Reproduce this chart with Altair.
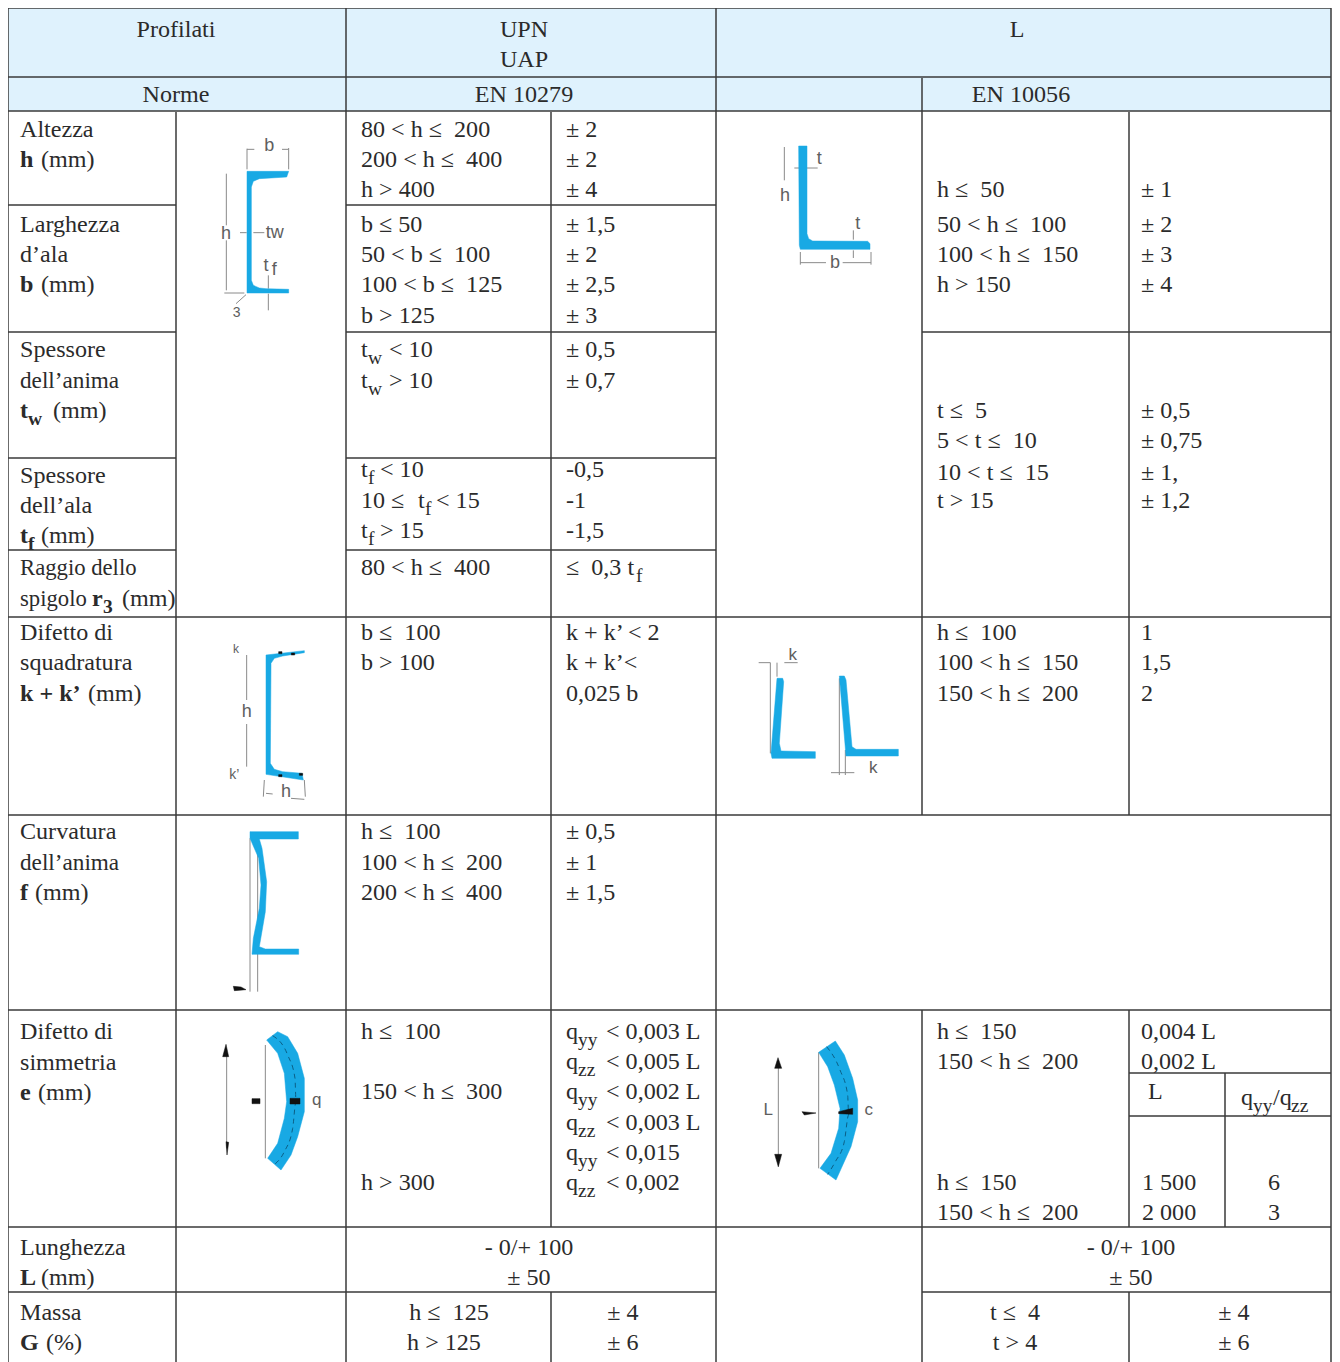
import altair as alt
import pandas as pd

NB = "\u00a0"
FONT = "Liberation Serif"
SANS = "Liberation Sans"
INK = "#2b2b2b"
RULE = "#3a3a3a"
CYAN = "#18a9e4"
HEAD = "#dff2fd"
GREY = "#5e5e5e"
S = 24.1
SUB = 19.5

def le(a):
    return a.replace("<=", "≤" + NB).replace(" ", NB)

RIGHT = 1331
vertical = [
    (8, 8, 1362), (176, 112, 1362), (346, 8, 1362), (551, 112, 1227), (551, 1292, 1362),
    (716, 8, 1362), (922, 78, 815), (922, 1010, 1362), (1129, 112, 815), (1129, 1010, 1227),
    (1129, 1292, 1362), (1225, 1073, 1227), (RIGHT, 8, 1362),
]
horizontal = [
    (8, RIGHT, 8), (8, RIGHT, 77), (8, RIGHT, 111), (8, 176, 205), (346, 716, 205),
    (8, 176, 332), (346, 716, 332), (922, RIGHT, 332), (8, 176, 458), (346, 716, 458),
    (8, 176, 550), (346, 716, 550), (8, RIGHT, 617), (8, RIGHT, 815), (8, RIGHT, 1010),
    (1129, RIGHT, 1073), (1129, RIGHT, 1116), (8, RIGHT, 1227), (8, 716, 1292), (922, RIGHT, 1292),
]

left = [
    (20, 137, "Altezza"), (41, 167, "(mm)"),
    (361, 137, le("80 < h <= 200")), (361, 167, le("200 < h <= 400")), (361, 197, "h > 400"),
    (566, 137, "± 2"), (566, 167, "± 2"), (566, 197, "± 4"),
    (20, 232, "Larghezza"), (20, 262, "d’ala"), (41, 292, "(mm)"),
    (361, 232, "b ≤ 50"), (361, 262, le("50 < b <= 100")), (361, 292, le("100 < b <= 125")), (361, 323, "b > 125"),
    (566, 232, "± 1,5"), (566, 262, "± 2"), (566, 292, "± 2,5"), (566, 323, "± 3"),
    (20, 357, "Spessore"), (20, 388, "dell’anima", 23.2), (53, 418, "(mm)"),
    (361, 357, "t"), (368, 364, "w", SUB), (389, 357, "< 10"),
    (361, 388, "t"), (368, 395, "w", SUB), (389, 388, "> 10"),
    (566, 357, "± 0,5"), (566, 388, "± 0,7"),
    (20, 483, "Spessore"), (20, 513, "dell’ala"), (41, 543, "(mm)"),
    (361, 477, "t"), (368, 484, "f", SUB), (380, 477, "< 10"),
    (361, 508, le("10 <= ")), (418, 508, "t"), (425, 515, "f", SUB), (436, 508, "< 15"),
    (361, 538, "t"), (368, 545, "f", SUB), (380, 538, "> 15"),
    (566, 477, "-0,5"), (566, 508, "-1"), (566, 538, "-1,5"),
    (20, 575, "Raggio dello", 22.7), (20, 606, "spigolo", 22.7), (122, 606, "(mm)"),
    (361, 575, le("80 < h <= 400")), (566, 575, le("<= 0,3 t")), (636, 582, "f", SUB),
    (937, 197, le("h <= 50")), (937, 232, le("50 < h <= 100")), (937, 262, le("100 < h <= 150")), (937, 292, "h > 150"),
    (1141, 197, "± 1"), (1141, 232, "± 2"), (1141, 262, "± 3"), (1141, 292, "± 4"),
    (937, 418, le("t <= 5")), (937, 448, le("5 < t <= 10")), (937, 480, le("10 < t <= 15")), (937, 508, "t > 15"),
    (1141, 418, "± 0,5"), (1141, 448, "± 0,75"), (1141, 480, "± 1,"), (1141, 508, "± 1,2"),
    (20, 640, "Difetto di"), (20, 670, "squadratura"), (88, 701, "(mm)"),
    (361, 640, le("b <= 100")), (361, 670, "b > 100"),
    (566, 640, "k + k’ < 2"), (566, 670, "k + k’<"), (566, 701, "0,025 b"),
    (937, 640, le("h <= 100")), (937, 670, le("100 < h <= 150")), (937, 701, le("150 < h <= 200")),
    (1141, 640, "1"), (1141, 670, "1,5"), (1141, 701, "2"),
    (20, 839, "Curvatura"), (20, 870, "dell’anima", 23.2), (35, 900, "(mm)"),
    (361, 839, le("h <= 100")), (361, 870, le("100 < h <= 200")), (361, 900, le("200 < h <= 400")),
    (566, 839, "± 0,5"), (566, 870, "± 1"), (566, 900, "± 1,5"),
    (20, 1039, "Difetto di"), (20, 1070, "simmetria"), (38, 1100, "(mm)"),
    (361, 1039, le("h <= 100")), (361, 1099, le("150 < h <= 300")), (361, 1190, "h > 300"),
    (566, 1039, "q"), (578, 1046, "yy", SUB), (606, 1039, "< 0,003 L"),
    (566, 1069, "q"), (578, 1076, "zz", SUB), (606, 1069, "< 0,005 L"),
    (566, 1099, "q"), (578, 1106, "yy", SUB), (606, 1099, "< 0,002 L"),
    (566, 1130, "q"), (578, 1137, "zz", SUB), (606, 1130, "< 0,003 L"),
    (566, 1160, "q"), (578, 1167, "yy", SUB), (606, 1160, "< 0,015"),
    (566, 1190, "q"), (578, 1197, "zz", SUB), (606, 1190, "< 0,002"),
    (937, 1039, le("h <= 150")), (937, 1069, le("150 < h <= 200")),
    (1141, 1039, "0,004 L"), (1141, 1069, "0,002 L"), (1148, 1099, "L"),
    (1241, 1105, "q"), (1253, 1112, "yy", SUB), (1273, 1105, "/q"), (1291, 1112, "zz", SUB),
    (937, 1190, le("h <= 150")), (937, 1220, le("150 < h <= 200")),
    (1142, 1190, "1 500"), (1142, 1220, "2 000"),
    (20, 1255, "Lunghezza"), (41, 1285, "(mm)"), (20, 1320, "Massa"), (46, 1350, "(%)"),
]
center = [
    (176, 37, "Profilati"), (524, 37, "UPN"), (524, 67, "UAP"), (1017, 37, "L"),
    (176, 102, "Norme"), (524, 102, "EN 10279"), (1021, 102, "EN 10056"),
    (1274, 1190, "6"), (1274, 1220, "3"),
    (529, 1255, "- 0/+ 100"), (529, 1285, "± 50"),
    (1131, 1255, "- 0/+ 100"), (1131, 1285, "± 50"),
    (449, 1320, le("h <= 125")), (444, 1350, "h > 125"), (623, 1320, "± 4"), (623, 1350, "± 6"),
    (1015, 1320, le("t <= 4")), (1015, 1350, "t > 4"), (1234, 1320, "± 4"), (1234, 1350, "± 6"),
]
bold = [
    (20, 167, "h"), (20, 292, "b"), (20, 418, "t"), (28, 425, "w", SUB), (20, 543, "t"), (28, 550, "f", SUB),
    (92, 606, "r"), (103, 613, "3", SUB), (20, 701, "k + k’"), (20, 900, "f"), (20, 1100, "e"),
    (20, 1285, "L"), (20, 1350, "G"),
]

sketches = [
    dict(origin=(176, 112),
         cyan=[[(213,178),(338,178),(332,195),(250,200),(232,208),(226,225),(226,505),(232,520),(250,528),(270,530),(338,532),(338,543),(213,543)]],
         black=[], dash=[],
         lines=[(213,110,213,172),(338,108,338,172),(213,112,235,112),(318,112,338,112),(151,185,151,340),(151,385,151,535),
                (145,543,205,543),(192,362,212,362),(232,362,265,362),(277,490,277,530),(277,545,277,595),(180,575,210,548)],
         labels=[(280,118,"b",18),(150,380,"h",18),(296,378,"tw",18),(270,478,"t",18),(295,488,"f",18),(182,615,"3",14)]),
    dict(origin=(716, 112),
         cyan=[[(248,102),(273,102),(273,365),(278,380),(290,387),(455,388),(462,395),(462,412),(253,412),(250,400)]],
         black=[], dash=[],
         lines=[(205,105,205,205),(235,168,305,168),(412,355,412,383),(412,415,412,438),(253,420,253,458),(465,420,465,458),
                (253,452,330,452),(380,452,465,452)],
         labels=[(207,268,"h",18),(310,155,"t",18),(425,350,"t",18),(357,468,"b",18)]),
    dict(origin=(176, 620),
         cyan=[[(270,105),(385,92),(385,98),(320,108),(295,115),(285,130),(283,430),(295,448),(320,455),(378,460),(382,480),(270,463)]],
         black=[[(308,95),(318,95),(318,101),(308,101)],[(346,99),(356,99),(356,105),(346,105)],[(308,464),(318,464),(318,470),(308,470)],[(370,460),(380,460),(380,466),(370,466)]],
         dash=[],
         lines=[(212,105,212,240),(212,312,212,440),(265,480,262,530),(385,480,388,530),(270,520,290,522),(345,535,385,538)],
         labels=[(180,100,"k",12),(212,292,"h",18),(175,478,"k’",14),(330,530,"h",18)]),
    dict(origin=(716, 620),
         cyan=[[(183,175),(200,175),(203,185),(190,370),(195,393),(298,395),(298,415),(168,415),(165,400)],
               [(370,168),(385,168),(390,180),(408,380),(420,388),(547,388),(547,408),(390,408)]],
         black=[], dash=[],
         lines=[(163,128,163,400),(183,128,183,170),(128,128,163,128),(205,128,245,128),(370,175,370,465),(388,390,388,465),(345,458,415,458)],
         labels=[(230,120,"k",17),(472,458,"k",17)]),
    dict(origin=(176, 815),
         cyan=[[(222,50),(367,50),(367,72),(250,72),(258,100),(272,200),(268,290),(250,395),(268,402),(368,402),(368,418),(228,418),(232,370),(250,280),(255,210),(248,130),(222,70)]],
         black=[[(172,514),(195,516),(210,524),(175,527)]], dash=[],
         lines=[(222,70,222,530),(245,75,245,530)],
         labels=[]),
    dict(origin=(176, 1015),
         cyan=[[(272,75),(305,50),(335,65),(365,115),(385,190),(385,290),(365,365),(345,420),(315,465),(275,430),(305,385),(325,310),(332,260),(325,175),(305,115)]],
         black=[[(150,88),(158,125),(140,125)],[(150,380),(158,382),(153,420)],[(228,251),(252,251),(252,266),(228,266)],[(342,250),(372,250),(372,267),(342,267)]],
         dash=[[(290,62),(335,120),(357,190),(360,260),(350,340),(325,410),(296,448)]],
         lines=[(268,90,268,430),(152,110,152,400)],
         labels=[(422,270,"q",17)]),
    dict(origin=(716, 1015),
         cyan=[[(308,112),(358,78),(385,120),(410,190),(425,255),(425,320),(405,395),(360,495),(312,460),(345,415),(368,340),(372,280),(355,210),(335,155)]],
         black=[[(186,128),(197,160),(176,160)],[(176,418),(197,418),(187,455)],[(258,290),(300,294),(265,300)],[(368,290),(410,280),(410,298),(368,296)]],
         dash=[[(332,95),(372,165),(395,240),(398,300),(385,380),(358,440),(335,478)]],
         lines=[(308,112,308,460),(187,135,187,455)],
         labels=[(157,300,"L",17),(458,300,"c",17)]),
]

rules = [dict(x=x, x2=x, y=a, y2=b) for x, a, b in vertical]
rules += [dict(x=a, x2=b, y=y, y2=y) for a, b, y in horizontal]

def tdf(rows, font_default=S):
    return pd.DataFrame([dict(x=r[0], y=r[1], t=r[2], s=r[3] if len(r) > 3 else font_default) for r in rows])

cy, bk, lab, thin, dsh = [], [], [], [], []
g = 0
for sk in sketches:
    ox, oy = sk["origin"]
    for name, store in (("cyan", cy), ("black", bk), ("dash", dsh)):
        for poly in sk[name]:
            g += 1
            for i, (px, py) in enumerate(poly):
                store.append(dict(x=ox + px / 3, y=oy + py / 3, g=g, o=i))
    for a, b, c, d in sk["lines"]:
        thin.append(dict(x=ox + a / 3, y=oy + b / 3, x2=ox + c / 3, y2=oy + d / 3))
    for a, b, t, s in sk["labels"]:
        lab.append(dict(x=ox + a / 3, y=oy + b / 3, t=t, s=s))

W, H = 1324, 1354
xs = alt.Scale(domain=[8, 8 + W], range=[0, W], nice=False, zero=False)
ys = alt.Scale(domain=[8, 8 + H], range=[0, H], nice=False, zero=False)
X = alt.X("x:Q", scale=xs, axis=None)
Y = alt.Y("y:Q", scale=ys, axis=None)

head = alt.Chart(pd.DataFrame([dict(x=8, x2=RIGHT, y=8, y2=111)])).mark_rect(color=HEAD).encode(
    x=X, x2="x2:Q", y=Y, y2="y2:Q")
grid = alt.Chart(pd.DataFrame(rules)).mark_rule(color=RULE, strokeWidth=1.5).encode(
    x=X, x2="x2:Q", y=Y, y2="y2:Q")
thin_l = alt.Chart(pd.DataFrame(thin)).mark_rule(color="#8a8a8a", strokeWidth=1).encode(
    x=X, x2="x2:Q", y=Y, y2="y2:Q")
poly_c = alt.Chart(pd.DataFrame(cy)).mark_line(fill=CYAN, stroke=CYAN, strokeWidth=0.5, interpolate="linear-closed").encode(
    x=X, y=Y, detail="g:N", order="o:Q")
poly_b = alt.Chart(pd.DataFrame(bk)).mark_line(fill="#111111", stroke="#111111", strokeWidth=0.5, interpolate="linear-closed").encode(
    x=X, y=Y, detail="g:N", order="o:Q")
dash_l = alt.Chart(pd.DataFrame(dsh)).mark_line(stroke="#0b5f86", strokeWidth=1, strokeDash=[5, 4], interpolate="monotone").encode(
    x=X, y=Y, detail="g:N", order="o:Q")

def text_layer(df, align, weight="normal", font=FONT, color=INK):
    return alt.Chart(df).mark_text(align=align, baseline="alphabetic", font=font, fontWeight=weight, color=color).encode(
        x=X, y=Y, text="t:N", size=alt.Size("s:Q", scale=None, legend=None))

chart = alt.layer(
    head, thin_l, poly_c, dash_l, poly_b, grid,
    text_layer(tdf(left), "left"),
    text_layer(tdf(center), "center"),
    text_layer(tdf(bold), "left", "bold"),
    text_layer(pd.DataFrame(lab), "center", font=SANS, color=GREY),
).properties(width=W, height=H, padding=0, autosize=alt.AutoSizeParams(type="none"), background="white"
).configure_view(stroke=None)

chart.save("out.html", embed_options={"renderer": "svg", "actions": False})
